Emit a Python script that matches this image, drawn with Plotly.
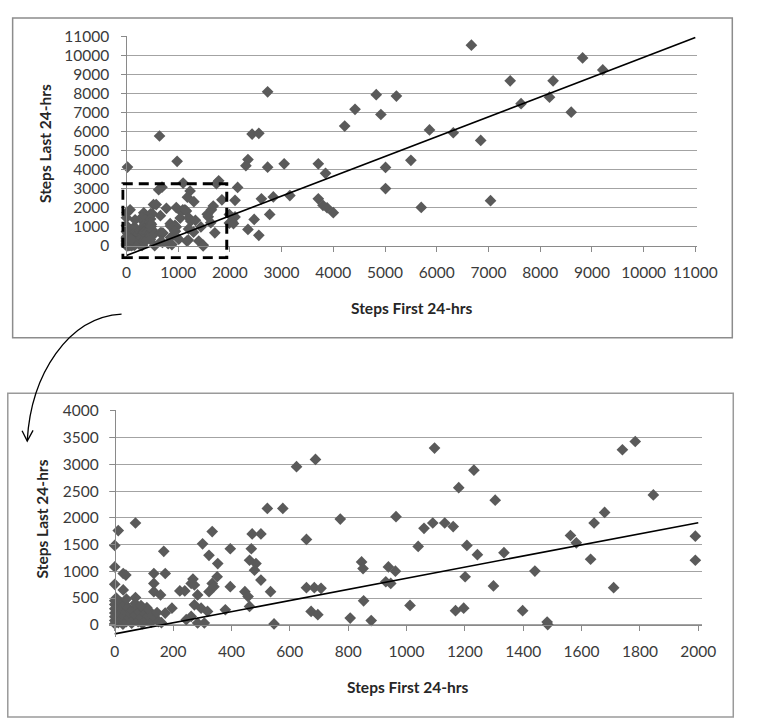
import plotly.graph_objects as go

W, H = 764, 726

# ---------------- data ----------------
# points inside the zoomed window (Steps First <= 2000, Steps Last <= 4000)
first_low = [1096, 1231, 1179, 1304, 964, 1060, 1090, 1131, 1160, 1040, 1207, 1243, 1334, 1201, 1298,
             1440, 1012, 1168, 1196, 1398, 1482, 1484, 1562, 1582, 1631, 1643, 1679, 1710, 1740, 1784,
             1846, 1990, 1990,
             0, 12, 71, 0, 29, 38, 0, 29, 71, 134, 134, 173, 168, 134, 157, 173, 196, 223, 240, 268,
             262, 273, 284, 273, 262, 245, 284, 307, 296, 318, 334, 301, 323, 353, 351, 334, 323, 340,
             379, 396, 396, 446, 457, 462, 471, 501, 468, 462, 484, 479, 501, 534, 546, 523, 576, 657,
             657, 684, 707, 673, 696, 773, 846, 851, 853, 807, 879, 938, 962, 929, 946, 623, 688,
             0, 0, 0, 0, 0, 0, 0, 5, 8, 10, 12, 15, 18, 20, 22, 25, 28, 30, 35, 38, 40, 45, 50, 55, 58,
             60, 65, 70, 75, 80, 85, 90, 95, 100, 105, 110, 115, 120, 125, 130, 140, 145, 150, 160,
             110, 70, 40, 90]
last_low = [3306, 2892, 2565, 2330, 2022, 1805, 1904, 1904, 1837, 1466, 1485, 1311, 1348, 898, 726,
            1004, 361, 263, 311, 263, 52, 4, 1670, 1533, 1226, 1904, 2102, 694, 3274, 3429,
            2429, 1657, 1207,
            1485, 1763, 1904, 1083, 959, 929, 756, 651, 509, 959, 774, 959, 1374, 620, 559, 219, 311,
            633, 633, 855, 774, 744, 559, 374, 157, 96, 33, 33, 311, 250, 1744, 1515, 1300, 1144, 898,
            774, 620, 713, 281, 1422, 713, 620, 528, 343, 1700, 1700, 1422, 1207, 1144, 1022, 837,
            620, 15, 2176, 2176, 1596, 694, 694, 682, 250, 188, 1978, 1176, 1052, 448, 126, 78, 1083,
            1003, 805, 774, 2957, 3093,
            450, 380, 300, 220, 150, 80, 20, 500, 260, 120, 40, 350, 200, 420, 90, 300, 10, 160, 380,
            240, 60, 320, 130, 200, 30, 270, 100, 180, 320, 60, 240, 140, 20, 290, 200, 90, 160, 250,
            50, 180, 120, 230, 60, 40, 320, 400, 480, 360]

# points only visible in the full-range chart
first_high = [8820, 6670, 9210, 7420, 8250, 8180, 7630, 8600, 2730, 4830, 5220, 4420, 4920, 4220, 5860,
              6320, 6850, 2430, 2560, 640, 980, 5500, 5010, 5010, 3050, 3710, 2350, 2310, 2730, 3850,
              20, 2150, 2100, 2610, 2840, 3160, 3710, 3800, 3880, 4000, 5700, 7040, 2770, 2470, 2350,
              2560, 2040, 2100, 2070]
last_high = [9880, 10550, 9250, 8680, 8680, 7820, 7480, 7030, 8100, 7950, 7880, 7180, 6910, 6300, 6100,
             5950, 5550, 5880, 5920, 5780, 4450, 4500, 4130, 3020, 4320, 4320, 4540, 4220, 4140, 3820,
             4150, 3080, 2400, 2480, 2580, 2650, 2480, 2140, 2010, 1750, 2030, 2380, 1660, 1400, 870,
             560, 1300, 1530, 1180]

# linear trend lines (end points)
trend_top_x = [0, 11000]
trend_top_y = [-500, 10950]
trend_bot_x = [0, 2000]
trend_bot_y = [-170, 1910]

top_ticks = list(range(0, 11001, 1000))
bot_xticks = list(range(0, 2001, 200))
bot_yticks = list(range(0, 4001, 500))

zoom_box_x = [-70, 1940]
zoom_box_y = [-620, 3270]

x_title = "Steps First 24-hrs"
y_title = "Steps Last 24-hrs"

# ---------------- geometry helpers ----------------
def lin(v, v0, p0, v1, p1):
    return p0 + (v - v0) * (p1 - p0) / (v1 - v0)

# value -> pixel calibration of each panel
TX = (0, 130, 11000, 715)
TY = (0, 240, 11000, 28)
top_xr = [-100, 11030]
top_yr = [-700, 11050]
BX = (0, 118, 2000, 718)
BY = (0, 623.5, 4000, 407)
bot_xr = [-20, 2012]
bot_yr = [-230, 4010]

def xdom(r, c):
    return [lin(r[0], *c) / W, lin(r[1], *c) / W]

def ydom(r, c):
    return [1 - lin(r[0], *c) / H, 1 - lin(r[1], *c) / H]

all_first = first_low + first_high
all_last = last_low + last_high

MARK = dict(symbol="diamond", size=9, color="#5a5a5a", line=dict(width=0))
FONT = "Lato"
TICKFONT = dict(family=FONT, size=15.5, color="#3a3a3a")
AXC = "#8a8a8a"
GRIDC = "#a3a3a3"

fig = go.Figure()
fig.add_trace(go.Scatter(x=all_first, y=all_last, mode="markers", marker=MARK,
                         xaxis="x", yaxis="y", cliponaxis=False, hoverinfo="x+y"))
fig.add_trace(go.Scatter(x=trend_top_x, y=trend_top_y, mode="lines",
                         line=dict(color="black", width=1.6), xaxis="x", yaxis="y"))
fig.add_trace(go.Scatter(x=all_first, y=all_last, mode="markers", marker=MARK,
                         xaxis="x2", yaxis="y2", cliponaxis=True, hoverinfo="x+y"))
fig.add_trace(go.Scatter(x=trend_bot_x, y=trend_bot_y, mode="lines",
                         line=dict(color="black", width=1.6), xaxis="x2", yaxis="y2"))

def xaxis(rng, dom, pos, ticks, standoff):
    return dict(range=rng, domain=dom, anchor="free", position=pos,
                tickmode="array", tickvals=ticks, ticktext=[str(t) for t in ticks],
                showgrid=False, zeroline=False, showline=True, linecolor=AXC, linewidth=1,
                ticks="outside", ticklen=5, tickcolor=AXC, tickfont=TICKFONT,
                ticklabelstandoff=standoff, fixedrange=True)

def yaxis(rng, dom, pos, ticks, standoff):
    return dict(range=rng, domain=dom, anchor="free", position=pos,
                tickmode="array", tickvals=ticks, ticktext=[str(t) for t in ticks],
                showgrid=True, gridcolor=GRIDC, gridwidth=1, zeroline=False,
                showline=True, linecolor=AXC, linewidth=1,
                ticks="outside", ticklen=5, tickcolor=AXC, tickfont=TICKFONT,
                ticklabelstandoff=standoff, fixedrange=True)

shapes = [
    # panel frames
    dict(type="rect", xref="paper", yref="paper", x0=13 / W, x1=753 / W, y0=1 - 333 / H, y1=1 - 9 / H,
         line=dict(color="#8c8c8c", width=1.5)),
    dict(type="rect", xref="paper", yref="paper", x0=8 / W, x1=754 / W, y0=1 - 717 / H, y1=1 - 389 / H,
         line=dict(color="#9a9a9a", width=1.5)),
    # dashed zoom window
    dict(type="rect", xref="x", yref="y", x0=zoom_box_x[0], x1=zoom_box_x[1],
         y0=zoom_box_y[0], y1=zoom_box_y[1], line=dict(color="black", width=3, dash="10px,6px")),
]

def P(px, py):
    return f"{px / W:.5f},{1 - py / H:.5f}"

# curved arrow from the upper panel to the lower one
shapes.append(dict(type="path", xref="paper", yref="paper",
                   path=f"M{P(125, 309)} C{P(70, 312)} {P(32, 370)} {P(28, 437)}",
                   line=dict(color="black", width=1.3)))
shapes.append(dict(type="path", xref="paper", yref="paper",
                   path=f"M{P(22.7, 427)} L{P(28, 437.5)} L{P(34, 426.7)}",
                   line=dict(color="black", width=1.3)))

TITLEFONT = dict(family=FONT, size=15.5, color="#262626")
annotations = [
    dict(text=f"<b>{x_title}</b>", xref="paper", yref="paper", x=424 / W, y=1 - 303 / H,
         showarrow=False, font=TITLEFONT, xanchor="center", yanchor="middle"),
    dict(text=f"<b>{y_title}</b>", xref="paper", yref="paper", x=47 / W, y=1 - 136 / H,
         showarrow=False, font=TITLEFONT, textangle=-90, xanchor="center", yanchor="middle"),
    dict(text=f"<b>{x_title}</b>", xref="paper", yref="paper", x=420 / W, y=1 - 687 / H,
         showarrow=False, font=TITLEFONT, xanchor="center", yanchor="middle"),
    dict(text=f"<b>{y_title}</b>", xref="paper", yref="paper", x=43 / W, y=1 - 516 / H,
         showarrow=False, font=TITLEFONT, textangle=-90, xanchor="center", yanchor="middle"),
]

fig.update_layout(
    width=W, height=H, margin=dict(l=0, r=0, t=0, b=0),
    paper_bgcolor="white", plot_bgcolor="white", showlegend=False,
    font=dict(family=FONT),
    xaxis=xaxis(top_xr, xdom(top_xr, TX), 1 - 240 / H, top_ticks, 7),
    yaxis=yaxis(top_yr, ydom(top_yr, TY), 130 / W, top_ticks, 9),
    xaxis2=xaxis(bot_xr, xdom(bot_xr, BX), 1 - 623.5 / H, bot_xticks, 8),
    yaxis2=yaxis(bot_yr, ydom(bot_yr, BY), 118 / W, bot_yticks, 8),
    shapes=shapes, annotations=annotations,
)

fig.write_html("out.html", post_script="document.body.style.margin='0';",
               config={"displayModeBar": False})
